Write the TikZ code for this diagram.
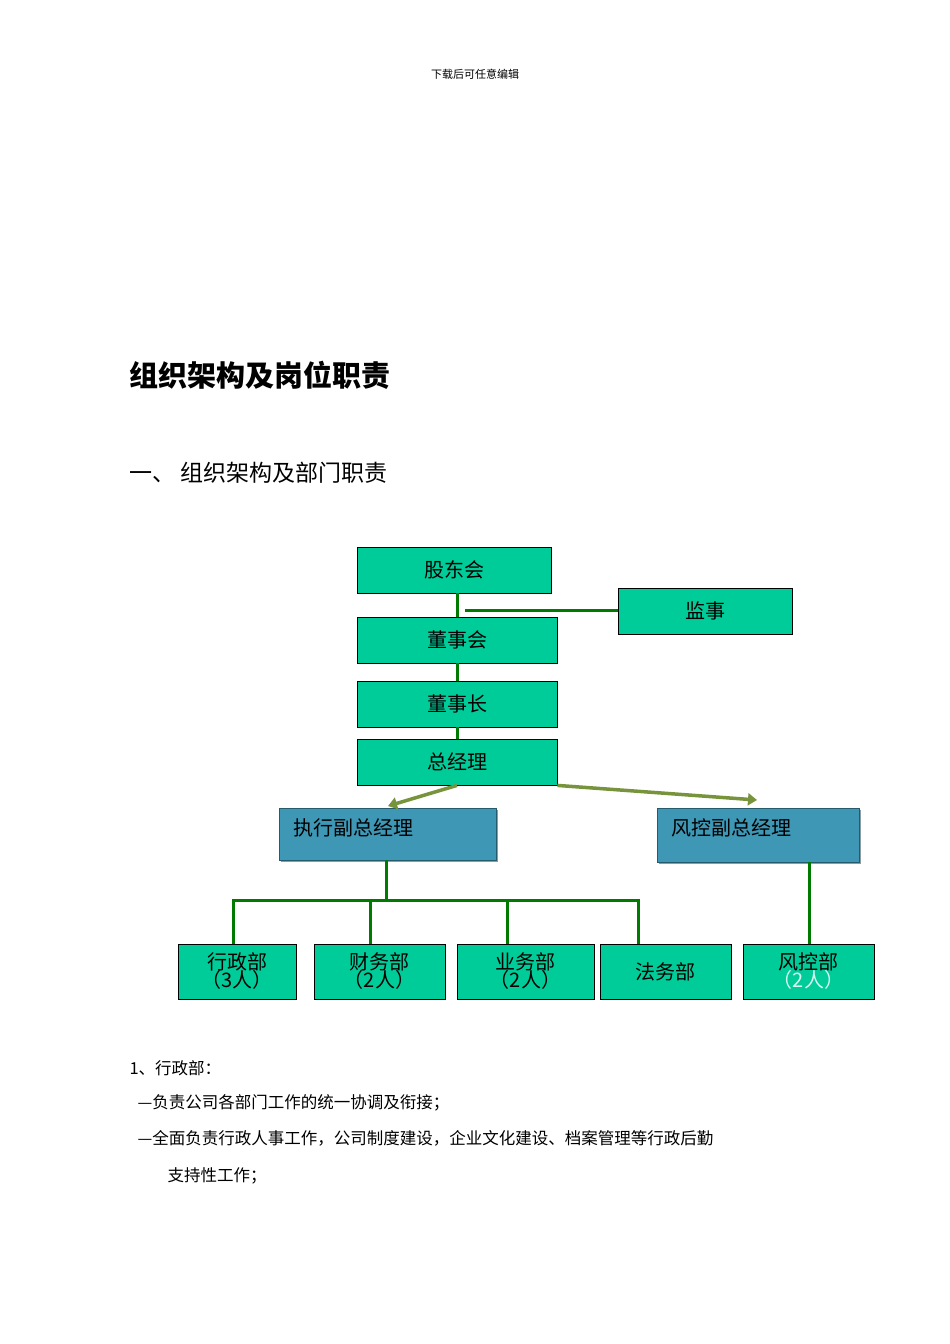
\documentclass[tikz,border=0pt]{standalone}
\usepackage{fontspec}
\setmainfont{Noto Sans CJK SC}
\usetikzlibrary{arrows.meta,shadows}
\definecolor{tq}{HTML}{00CC99}
\definecolor{gl}{HTML}{007A00}
\definecolor{ol}{HTML}{77933C}
\definecolor{bl}{HTML}{3D97B5}
\begin{document}
\begin{tikzpicture}[x=1pt,y=-1pt,
  gbox/.style={draw=black,fill=tq,line width=0.8pt,inner sep=0pt,font=\fontsize{20}{22}\selectfont,align=center},
  bbox/.style={fill=bl,inner sep=0pt,draw=bl!60!black,line width=0.6pt,drop shadow={shadow xshift=2pt,shadow yshift=-2pt,fill=bl!40!black},font=\fontsize{20}{22}\selectfont},
  gline/.style={gl,line width=3pt},
  oarr/.style={ol,line width=3.5pt,-{Triangle[length=9pt,width=12pt]}}]
\useasboundingbox (0,0) rectangle (950,1344);
\fill[white] (0,0) rectangle (950,1344);
\node (hdr) at (475,74) {\fontsize{11}{12}\selectfont 下载后可任意编辑};
\node[anchor=west] (title) at (126,375) {\fontsize{29}{32}\selectfont\bfseries 组织架构及岗位职责};
\node[anchor=west] (h1) at (126,473) {\fontsize{23}{26}\selectfont 一、 组织架构及部门职责};
% boxes
\node[gbox,minimum width=194pt,minimum height=46pt] (gd) at (454,570) {股东会};
\node[gbox,minimum width=174pt,minimum height=46pt] (js) at (705,611) {监事};
\node[gbox,minimum width=200pt,minimum height=46pt] (dsh) at (457,640) {董事会};
\node[gbox,minimum width=200pt,minimum height=46pt] (dsz) at (457,704) {董事长};
\node[gbox,minimum width=200pt,minimum height=46pt] (zjl) at (457,762) {总经理};
\node[bbox,minimum width=217pt,minimum height=52pt] (zx) at (387.5,834) {};
\node[anchor=west,font=\fontsize{20}{22}\selectfont] (zxt) at (290,828) {执行副总经理};
\node[bbox,minimum width=202pt,minimum height=54pt] (fk) at (758,835) {};
\node[anchor=west,font=\fontsize{20}{22}\selectfont] (fkt) at (668,828) {风控副总经理};
\node[gbox,minimum width=118pt,minimum height=55pt] (xz) at (237,971.5) {行政部\\[-4pt]（3人）};
\node[gbox,minimum width=131pt,minimum height=55pt] (cw) at (379.5,971.5) {财务部\\[-4pt]（2人）};
\node[gbox,minimum width=137pt,minimum height=55pt] (yw) at (525.5,971.5) {业务部\\[-4pt]（2人）};
\node[gbox,minimum width=131pt,minimum height=55pt] (fw) at (665.5,971.5) {法务部};
\node[gbox,minimum width=131pt,minimum height=55pt] (fkb) at (808.5,971.5) {风控部\\[-4pt]\textcolor{white!85!tq}{（2人）}};
% connectors
\draw[gline] (gd.south -| zjl.north) -- (dsh.north -| zjl.north);
\draw[gline] (dsh.south) -- (dsz.north);
\draw[gline] (dsz.south) -- (zjl.north);
\coordinate (jl) at (465,610);
\draw[gline] (jl) -- (js.west |- jl);
\draw[oarr] (zjl.south) -- (388,806);
\draw[oarr] (zjl.south east) -- (757,800);
\coordinate (hb) at (386,900);
\draw[gline] (386,860) -- (hb);
\draw[gline] (233,944) -- (233,900) -- (638,900) -- (638,944);
\draw[gline] (370,900) -- (370,944);
\draw[gline] (507,900) -- (507,944);
\draw[gline] (809,862) -- (fkb.north -| 809,0);
% body
\begin{scope}[every node/.style={anchor=west,font=\fontsize{16.5}{18}\selectfont}]
\node (b1) at (126,1068) {1、行政部：};
\node (b2) at (134,1103) {—负责公司各部门工作的统一协调及衔接；};
\node (b3) at (134,1138) {—全面负责行政人事工作，公司制度建设，企业文化建设、档案管理等行政后勤};
\node (b4) at (164,1176) {支持性工作；};
\end{scope}
\end{tikzpicture}
\end{document}
